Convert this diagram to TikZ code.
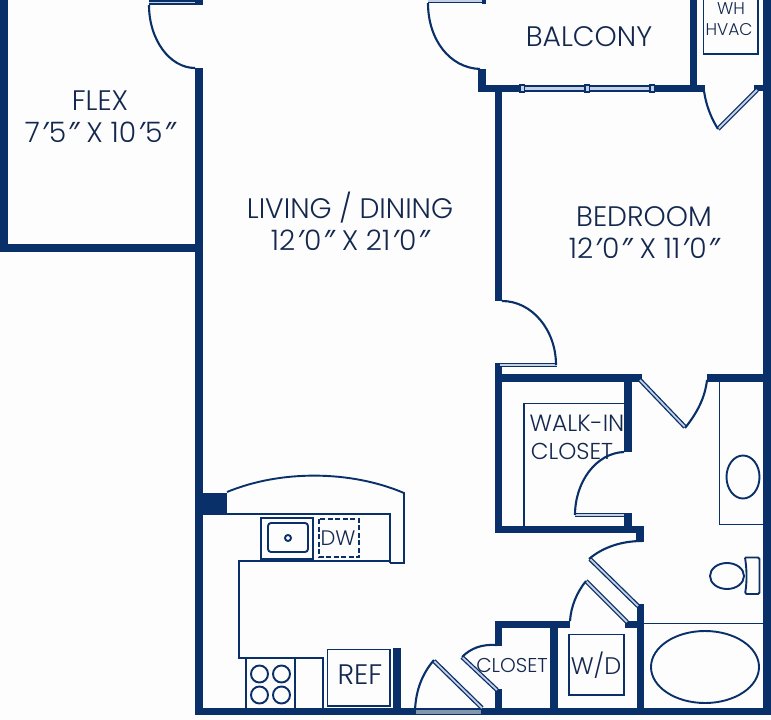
\documentclass[tikz,border=0pt]{standalone}
\usepackage{fontspec}
\setmainfont{Poppins Light}
\newfontfamily\primefont{Noto Sans}
\newcommand{\ft}{\kern1.5pt{\primefont\itshape ′}\kern1.2pt}
\newcommand{\inc}{\kern1.2pt{\primefont\itshape ″}\kern0.3pt}
\definecolor{navy}{HTML}{0A3069}
\definecolor{inkc}{HTML}{14284F}
\definecolor{glass}{HTML}{C4D0E6}
\definecolor{paper}{HTML}{FDFDFD}
\tikzset{
  wall/.style={fill=navy,draw=none},
  thin line/.style={draw=navy,line width=1.9pt,fill=none},
  swing/.style={draw=navy,line width=2.1pt},
  leaf/.style={draw=navy,line width=1.3pt,double=glass,double distance=1.8pt},
  room/.style={text=inkc,font=\fontsize{28.2}{28}\selectfont,inner sep=0pt,align=center},
  small/.style={text=inkc,font=\fontsize{20}{20}\selectfont,inner sep=0pt,align=center}
}
\begin{document}
\begin{tikzpicture}[x=1pt,y=-1pt]
\useasboundingbox (0,0) rectangle (771,720);
\fill[paper] (0,0) rectangle (771,720);
% walls
\foreach \a/\b/\c/\d in {0/0/7.5/252, 0/244/203/252, 195/68/203/715, 195/0/203/5,
 478/69/486/92, 478/85/520/92, 652/85/705/92, 690/0/697/92, 763/0/771/715, 754/85/771/91,
 482/0/486/4, 495/92/502/301, 495/363/502/533, 495/374/642/382, 707/374/771/382,
 624/382/632/452, 624/513/632/530, 495/526/644/533, 636/526/644/542,
 637/604/644/715, 495/621/570/628, 625/621/644/628, 550/628/558/715,
 495/621/502/646, 495/689/502/715, 195/708/771/715, 393/648/401/710, 195/493/227/514}
 {\fill[wall] (\a,\b) rectangle (\c,\d);}
% window
\fill[glass] (520,86.5) rectangle (652,90.5);
\draw[navy,line width=1.2pt] (520,86) -- (652,86) (520,91) -- (652,91);
\foreach \x in {520,585,650} {\draw[draw=navy,fill=glass,line width=1.4pt] (\x,85) rectangle (\x+4.5,92);}
% threshold
\fill[black!10!navy!50!white] (416,710) rectangle (481,714);
% door leaves
\draw[leaf] (149,2.5) -- (195,2.5);
\draw[leaf] (428,1) -- (482,1);
\draw[leaf] (718,129) -- (757,90);
\draw[leaf] (500,365) -- (557,365);
\draw[leaf] (640,380) -- (685,427);
\draw[leaf] (575,515) -- (624,515);
\draw[leaf] (590,559) -- (638,606);
\draw[leaf] (586,581) -- (627,622);
\draw[leaf] (462,657) -- (497,690);
\draw[leaf] (434,661) -- (482,708);
% door swings
\draw[swing] (149,5) .. controls (149,40) and (170,68) .. (195,68);
\draw[swing] (428,3) .. controls (428,40) and (450,68) .. (480,69);
\draw[swing] (704,91) .. controls (706,105) and (711,118) .. (718,129);
\draw[swing] (502,301) .. controls (532,301) and (556,330) .. (556,365);
\draw[swing] (707,380) .. controls (705,398) and (697,413) .. (685,428);
\draw[swing] (624,452) .. controls (596,453) and (575,482) .. (575,515);
\draw[swing] (642,541) .. controls (622,541) and (603,547) .. (589,559);
\draw[swing] (570,621) .. controls (571,606) and (577,592) .. (586,581);
\draw[swing] (497,645) .. controls (482,644) and (471,648) .. (462,657);
\draw[swing] (415,710) .. controls (416,690) and (422,674) .. (434,660);
% WH box
\draw[thin line] (703.5,0) -- (703.5,54) -- (758,54) -- (758,0);
% walk-in shelf
\draw[thin line] (524,527) -- (524,403.5) -- (624,403.5);
% bathroom
\draw[thin line] (719.5,382) -- (719.5,524.5) -- (763,524.5);
\draw[thin line] (644,623.5) -- (763,623.5);
\draw[thin line] (743,477) ellipse [x radius=16.5,y radius=21.5];
\draw[thin line] (705,667) ellipse [x radius=54,y radius=36];
\draw[thin line] (727,576) ellipse [x radius=17,y radius=13];
\draw[thin line,rounded corners=1.5pt] (745,557.5) -- (759.5,557.5) -- (759.5,594) -- (745,594) .. controls (747,582) and (747,570) .. (745,557.5);
% W/D
\draw[thin line] (569,634.5) rectangle (624,695);
% kitchen
\draw[thin line] (227,492) .. controls (280,470) and (350,470) .. (404,493) -- (404,563) -- (390,563);
\draw[thin line] (203,514) -- (390,514) -- (390,563);
\draw[thin line] (390,561) -- (239,561) -- (239,658) -- (323,658) -- (323,708);
\draw[thin line] (246,658) -- (246,708) (295,658) -- (295,708);
\foreach \x in {259.5,281.5} \foreach \y in {674,695} {\draw[thin line] (\x,\y) circle [radius=8.5];}
\draw[thin line] (327.5,649.5) rectangle (390,706);
\draw[thin line] (261,518) rectangle (313,559);
\draw[thin line,rounded corners=3pt] (268,523) rectangle (308,552);
\draw[thin line] (288,538) circle [radius=3];
\draw[thin line,dashed,dash pattern=on 5pt off 2.5pt] (319,519) rectangle (359,557);
% labels
\node[room] (flex) at (100,101) {FLEX};
\node[room] (flexd) at (100,132) {7\ft5\inc{} X 10\ft5\inc};
\node[room] (living) at (350,208) {LIVING / DINING};
\node[room] (livingd) at (350,240) {12\ft0\inc{} X 21\ft0\inc};
\node[room] (bed) at (644,217) {BEDROOM};
\node[room] (bedd) at (644,248) {12\ft0\inc{} X 11\ft0\inc};
\node[room] (balc) at (589,37) {BALCONY};
\node[small,font=\fontsize{17}{17}\selectfont] (wh) at (731,9) {WH};
\node[small,font=\fontsize{17}{17}\selectfont] (hvac) at (729,30) {HVAC};
\node[small,font=\fontsize{23.5}{23}\selectfont] (walk) at (577,423) {WALK-IN};
\node[small,font=\fontsize{23}{23}\selectfont] (clos) at (572,451) {CLOSET};
\node[small] (clos2) at (512,665) {CLOSET};
\node[small,font=\fontsize{24}{24}\selectfont] (wd) at (596,665) {W/D};
\node[small,font=\fontsize{21}{21}\selectfont] (dw) at (338,538) {DW};
\node[room] (ref) at (360,675) {REF};
\end{tikzpicture}
\end{document}
